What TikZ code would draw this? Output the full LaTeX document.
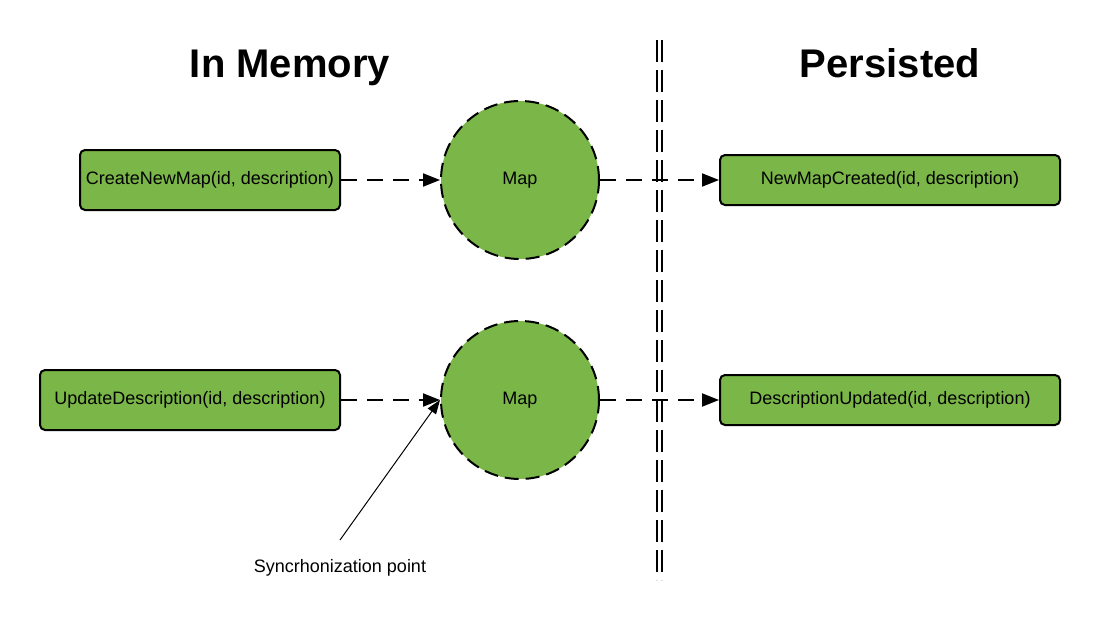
\documentclass[tikz,border=0pt]{standalone}
\usepackage{fontspec}
\setmainfont{Liberation Sans}
\usetikzlibrary{arrows.meta}
\definecolor{lgreen}{HTML}{7AB648}
\begin{document}
\begin{tikzpicture}[x=1pt,y=-1pt,
  box/.style={draw=black,line width=2pt,fill=lgreen,rounded corners=5pt,inner sep=0pt,font=\fontsize{18}{21}\selectfont},
  mapnode/.style={circle,draw=black,line width=2pt,fill=lgreen,minimum size=158pt,inner sep=0pt,dash pattern=on 14pt off 7pt,font=\fontsize{18}{21}\selectfont},
  flow/.style={line width=2pt,dash pattern=on 16pt off 10pt,-{Triangle[length=17pt,width=13pt]}},
  title/.style={font=\fontsize{40}{46}\selectfont\bfseries},
  sep/.style={line width=2pt,dash pattern=on 22pt off 8pt}]
\useasboundingbox (0,0) rectangle (1101,640);
\node[title] (tmem) at (290,68) {In Memory};
\node[title] (tper) at (890,63) {Persisted};
\coordinate (s1a) at (657,40); \coordinate (s1b) at (657,580);
\coordinate (s2a) at (662,40); \coordinate (s2b) at (662,580);
\draw[sep] (s1a) -- (s1b);
\draw[sep] (s2a) -- (s2b);
\node[box,minimum width=260pt,minimum height=60pt] (cmd1) at (210,180) {CreateNewMap(id, description)};
\node[box,minimum width=300pt,minimum height=60pt] (cmd2) at (190,400) {UpdateDescription(id, description)};
\node[mapnode] (map1) at (520,180) {Map};
\node[mapnode] (map2) at (520,400) {Map};
\node[box,minimum width=340pt,minimum height=50pt] (ev1) at (890,180) {NewMapCreated(id, description)};
\node[box,minimum width=340pt,minimum height=50pt] (ev2) at (890,400) {DescriptionUpdated(id, description)};
\draw[flow] (cmd1) -- (map1);
\draw[flow] (map1) -- (ev1);
\draw[flow] (cmd2) -- (map2);
\draw[flow] (map2) -- (ev2);
\node[font=\fontsize{18}{21}\selectfont] (sync) at (340,568) {Syncrhonization point};
\coordinate (synca) at (340,540);
\draw[line width=1pt,-{Triangle[length=14pt,width=10pt]}] (synca) -- (map2.west);
\end{tikzpicture}
\end{document}
